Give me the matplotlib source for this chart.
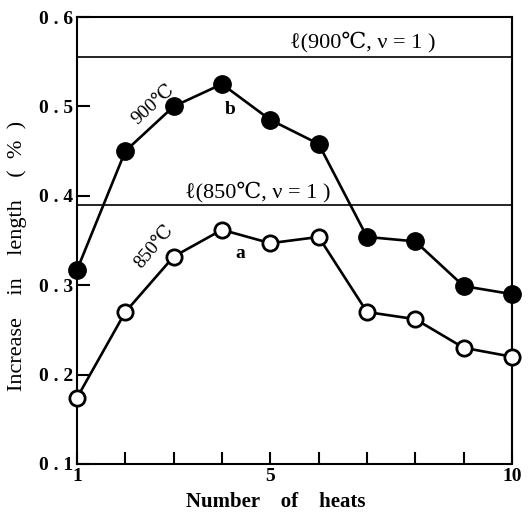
import matplotlib
matplotlib.use("Agg")
import matplotlib.pyplot as plt

plt.rcParams['font.family'] = ['Liberation Serif', 'DejaVu Serif']
plt.rcParams['font.weight'] = 'bold'

#---    Data
heats = [1, 2, 3, 4, 5, 6, 7, 8, 9, 10]
len_900 = [0.317, 0.450, 0.500, 0.525, 0.485, 0.458, 0.354, 0.349, 0.299, 0.290]
len_850 = [0.174, 0.270, 0.332, 0.362, 0.347, 0.354, 0.270, 0.262, 0.230, 0.220]
limit_900 = 0.555
limit_850 = 0.390
yticks = [0.1, 0.2, 0.3, 0.4, 0.5, 0.6]
ytick_labels = ['0 . 1', '0 . 2', '0 . 3', '0 . 4', '0 . 5', '0 . 6']
xtick_labels = ['1', '', '', '', '5', '', '', '', '', '10']

fig = plt.figure(figsize=(5.32, 5.16), dpi=100)
ax = fig.add_axes([0.1447, 0.1008, 0.8177, 0.8662])

ax.axhline(limit_900, color='black', linewidth=1.2)
ax.axhline(limit_850, color='black', linewidth=1.2)

ax.plot(heats, len_900, color='black', linewidth=1.9, marker='o', markersize=12.5,
        markerfacecolor='black', markeredgecolor='black', clip_on=False, zorder=3)
ax.plot(heats, len_850, color='black', linewidth=1.9, marker='o', markersize=11,
        markerfacecolor='white', markeredgecolor='black', markeredgewidth=2,
        clip_on=False, zorder=3)

ax.text(5.41, 0.572, 'ℓ(900℃, ν = 1 )', fontsize=16, va='center', ha='left',
        fontweight='normal')
ax.text(3.24, 0.404, 'ℓ(850℃, ν = 1 )', fontsize=16, va='center', ha='left',
        fontweight='normal')
ax.text(2.58, 0.502, '900℃', fontsize=14, rotation=42, ha='center', va='center',
        fontweight='normal')
ax.text(2.6, 0.343, '850℃', fontsize=14, rotation=50, ha='center', va='center',
        fontweight='normal')
ax.text(4.17, 0.496, 'b', fontsize=14, ha='center', va='center')
ax.text(4.37, 0.336, 'a', fontsize=14, ha='center', va='center')

ax.set_xlim(1, 10)
ax.set_ylim(0.1, 0.6)
ax.set_xticks(heats)
ax.set_xticklabels(xtick_labels, fontsize=14, fontweight='bold')
ax.set_yticks(yticks)
ax.set_yticklabels(ytick_labels, fontsize=14, fontweight='bold')
ax.tick_params(direction='in', length=9, width=1.5, pad=3)
ax.tick_params(axis='y', which='both', right=False)
ax.tick_params(axis='x', which='both', top=False)

for s in ax.spines.values():
    s.set_linewidth(1.5)

ax.set_xlabel('Number    of    heats', fontsize=15, fontweight='bold')
ax.xaxis.set_label_coords(0.457, -0.063)
ax.set_ylabel('Increase    in    length    (  %  )', fontsize=16, fontweight='normal')
ax.yaxis.set_label_coords(-0.115, 0.465)

plt.savefig('out.png', dpi=100)
